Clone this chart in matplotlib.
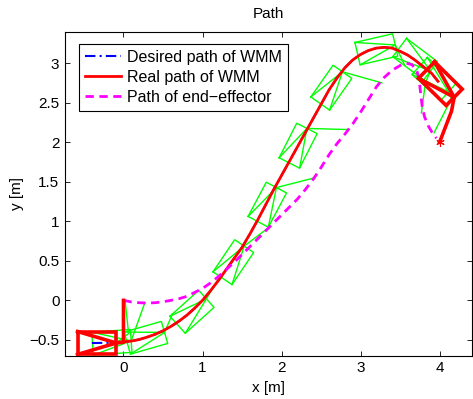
import numpy as np
import matplotlib
matplotlib.use('Agg')
import matplotlib.pyplot as plt

plt.rcParams['font.family'] = ['Liberation Sans', 'DejaVu Sans']
plt.rcParams['font.size'] = 11

# paths
desired_x = [-0.40, -0.09, 0.0, 0.1, 0.2, 0.3, 0.4, 0.5, 0.6, 0.7, 0.8, 0.9, 1.0, 1.1, 1.2, 1.3, 1.4, 1.5, 1.6,
             1.7, 1.8, 1.9, 2.0, 2.1, 2.2, 2.3, 2.4, 2.5, 2.6, 2.7, 2.8, 2.9, 3.0, 3.1, 3.2, 3.3, 3.4, 3.5,
             3.6, 3.7, 3.8, 3.9, 3.98]
desired_y = [-0.54, -0.535, -0.525, -0.515, -0.495, -0.465, -0.43, -0.385, -0.33, -0.265, -0.19, -0.10, 0.0,
             0.12, 0.25, 0.39, 0.53, 0.67, 0.84, 1.02, 1.21, 1.40, 1.58, 1.76, 1.94, 2.12, 2.30, 2.48, 2.66,
             2.81, 2.94, 3.04, 3.11, 3.16, 3.19, 3.20, 3.19, 3.15, 3.10, 3.03, 2.95, 2.87, 2.77]

real_x = [-0.09, 0.0, 0.1, 0.2, 0.3, 0.4, 0.5, 0.6, 0.7, 0.8, 0.9, 1.0, 1.1, 1.2, 1.3, 1.4, 1.5, 1.6,
          1.7, 1.8, 1.9, 2.0, 2.1, 2.2, 2.3, 2.4, 2.5, 2.6, 2.7, 2.8, 2.9, 3.0, 3.1, 3.2, 3.3, 3.4, 3.5,
          3.6, 3.7, 3.8, 3.9, 3.98]
real_y = [-0.53, -0.525, -0.515, -0.495, -0.465, -0.43, -0.385, -0.33, -0.265, -0.19, -0.10, 0.0,
          0.12, 0.25, 0.39, 0.53, 0.67, 0.84, 1.02, 1.21, 1.40, 1.58, 1.76, 1.94, 2.12, 2.30, 2.48, 2.66,
          2.81, 2.94, 3.04, 3.11, 3.16, 3.19, 3.20, 3.19, 3.15, 3.10, 3.03, 2.95, 2.87, 2.77]

ee_x = [0.0, 0.1, 0.2, 0.3, 0.4, 0.5, 0.6, 0.7, 0.8, 0.9, 1.0, 1.1, 1.2, 1.3, 1.4, 1.5, 1.6, 1.7, 1.8, 1.9,
        2.0, 2.1, 2.2, 2.3, 2.4, 2.5, 2.6, 2.7, 2.8, 2.9, 3.0, 3.1, 3.2, 3.3, 3.4, 3.5, 3.58, 3.65, 3.71,
        3.74, 3.76, 3.78, 3.81, 3.86, 3.92, 3.96]
ee_y = [0.0, -0.02, -0.03, -0.034, -0.03, -0.018, 0.0, 0.02, 0.05, 0.10, 0.15, 0.22, 0.30, 0.39, 0.48,
        0.58, 0.68, 0.78, 0.88, 0.98, 1.08, 1.18, 1.28, 1.40, 1.53, 1.68, 1.84, 1.98, 2.10, 2.23, 2.38,
        2.54, 2.70, 2.82, 2.91, 2.97, 3.00, 2.98, 2.91, 2.80, 2.62, 2.45, 2.32, 2.20, 2.10, 2.05]

# green snapshots of the WMM (center, heading in deg, arm elbow, arm tip)
green_x = [-0.336, -0.147, 0.284, 0.867, 1.39, 1.82, 2.21, 2.63, 3.20, 3.69, 3.93]
green_y = [-0.539, -0.53, -0.473, -0.145, 0.483, 1.21, 1.956, 2.69, 3.175, 3.05, 2.80]
green_th = [0, 4, 16, 42, 56, 62, 63, 55, 13, -37, -42]
green_elbow = [(0.065, -0.42), None, None, None, None, None, None, None, None, (3.82, 2.75), (4.15, 2.55)]
green_tip = [(0.02, 0.0), (0.27, -0.03), (0.62, -0.17), (1.22, 0.30), (1.83, 0.915), (2.42, 1.55),
             (2.845, 2.16), (3.27, 2.75), (3.56, 2.97), (3.77, 2.37), (3.93, 2.12)]

# red start / end pose
red_x = [-0.336, 4.01]
red_y = [-0.539, 2.74]
red_th = [0, -44.6]
red_elbow = [(0.0, -0.53), (4.15, 2.39)]
red_tip = [(0.0, 0.0), (4.0, 2.0)]

CAR_L = 0.49
CAR_W = 0.29


def draw_car(ax, cx, cy, th, elbow, tip, color, lw):
    t = np.radians(th)
    u = np.array([np.cos(t), np.sin(t)])
    v = np.array([-np.sin(t), np.cos(t)])
    c = np.array([cx, cy])
    rl = c - CAR_L / 2 * u + CAR_W / 2 * v
    fl = c + CAR_L / 2 * u + CAR_W / 2 * v
    fr = c + CAR_L / 2 * u - CAR_W / 2 * v
    rr = c - CAR_L / 2 * u - CAR_W / 2 * v
    fm = c + CAR_L / 2 * u
    box = np.array([rl, fl, fr, rr, rl])
    tri = np.array([rl, fm, rr])
    ax.plot(box[:, 0], box[:, 1], color=color, lw=lw, solid_joinstyle='miter')
    ax.plot(tri[:, 0], tri[:, 1], color=color, lw=lw)
    arm = [fm]
    if elbow is not None:
        arm.append(elbow)
    arm.append(tip)
    arm = np.array(arm)
    ax.plot(arm[:, 0], arm[:, 1], color=color, lw=lw)


fig = plt.figure(figsize=(4.73, 3.99), dpi=100)
ax = fig.add_axes([65 / 473, 1 - 355.7 / 399, 407 / 473, 323.4 / 399])

for i in range(len(green_x)):
    draw_car(ax, green_x[i], green_y[i], green_th[i], green_elbow[i], green_tip[i], (0, 1, 0), 1.0)

l1, = ax.plot(desired_x, desired_y, color='b', lw=1.5, dashes=(5, 2, 1, 2), label='Desired path of WMM')
l2, = ax.plot(real_x, real_y, color='r', lw=2.0, label='Real path of WMM')
l3, = ax.plot(ee_x, ee_y, color=(1, 0, 1), lw=2.0, dashes=(3, 2), label='Path of end\u2212effector')

for i in range(len(red_x)):
    draw_car(ax, red_x[i], red_y[i], red_th[i], red_elbow[i], red_tip[i], 'r', 2.6)
ax.plot([red_tip[1][0]], [red_tip[1][1]], color='r', marker=(6, 2, 0), ms=6, mew=0.8, ls='none')

ax.set_xlim(-0.74, 4.41)
ax.set_ylim(-0.70, 3.39)
ax.set_xticks([0, 1, 2, 3, 4])
ax.set_yticks([-0.5, 0, 0.5, 1, 1.5, 2, 2.5, 3])
ax.set_yticklabels(['\u22120.5', '0', '0.5', '1', '1.5', '2', '2.5', '3'])
ax.tick_params(direction='in', top=True, right=True, length=3.5, width=0.6, labelsize=11, pad=4)
for s in ax.spines.values():
    s.set_linewidth(0.8)

ax.set_title('Path', fontsize=11, pad=10)
ax.set_xlabel('x [m]', fontsize=11, labelpad=4)
ax.set_ylabel('y [m]', fontsize=11, labelpad=4)

leg = ax.legend(handles=[l1, l2, l3], loc='upper left', bbox_to_anchor=(0.0344, 0.963),
                borderaxespad=0, fancybox=False, edgecolor='k', framealpha=1,
                handlelength=2.3, handletextpad=0.35, borderpad=0.35, labelspacing=0.32, fontsize=11.5)
leg.get_frame().set_linewidth(0.8)

fig.savefig('out.png', dpi=100)
